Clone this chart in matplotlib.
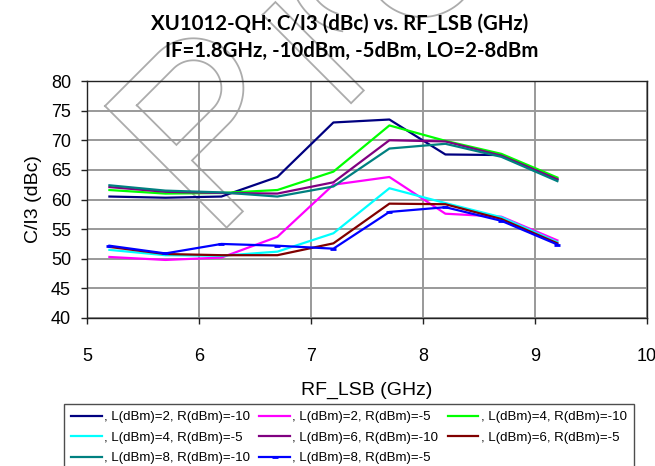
import numpy as np
import matplotlib.pyplot as plt

plt.rcParams['font.family'] = ['Liberation Sans', 'DejaVu Sans']

# RF_LSB sweep points (GHz)
rf_lsb = [5.2, 5.7, 6.2, 6.7, 7.2, 7.7, 8.2, 8.7, 9.2]

# C/I3 (dBc) for each LO / RF drive combination
ci3_l2_rm10 = [60.5, 60.3, 60.5, 63.8, 73.0, 73.5, 67.6, 67.5, 63.4]
ci3_l2_rm5 = [50.3, 49.8, 50.2, 53.7, 62.5, 63.8, 57.6, 57.1, 53.1]
ci3_l4_rm10 = [61.6, 61.0, 61.1, 61.6, 64.7, 72.5, 69.9, 67.7, 63.7]
ci3_l4_rm5 = [51.5, 50.6, 50.5, 51.2, 54.3, 61.9, 59.4, 57.0, 52.8]
ci3_l6_rm10 = [62.1, 61.3, 61.1, 61.0, 62.9, 70.0, 69.8, 67.4, 63.4]
ci3_l6_rm5 = [52.0, 50.8, 50.6, 50.6, 52.6, 59.3, 59.2, 56.7, 52.6]
ci3_l8_rm10 = [62.4, 61.5, 61.2, 60.5, 62.2, 68.6, 69.4, 67.2, 63.1]
ci3_l8_rm5 = [52.2, 50.9, 52.5, 52.2, 51.7, 57.9, 58.7, 56.4, 52.4]

series = [
    (ci3_l2_rm10, ', L(dBm)=2, R(dBm)=-10', '#000080'),
    (ci3_l2_rm5, ', L(dBm)=2, R(dBm)=-5', '#ff00ff'),
    (ci3_l4_rm10, ', L(dBm)=4, R(dBm)=-10', '#00ff00'),
    (ci3_l4_rm5, ', L(dBm)=4, R(dBm)=-5', '#00ffff'),
    (ci3_l6_rm10, ', L(dBm)=6, R(dBm)=-10', '#800080'),
    (ci3_l6_rm5, ', L(dBm)=6, R(dBm)=-5', '#800000'),
    (ci3_l8_rm10, ', L(dBm)=8, R(dBm)=-10', '#008080'),
    (ci3_l8_rm5, ', L(dBm)=8, R(dBm)=-5', '#0000ff'),
]

W, H = 655, 466
fig = plt.figure(figsize=(W / 100, H / 100), dpi=100)

# faint outline logo behind the plot, in pixel coordinates
bg = fig.add_axes([0, 0, 1, 1], zorder=0)
bg.set_xlim(0, W)
bg.set_ylim(H, 0)
bg.axis('off')


def rot(u, v, ox=105, oy=106):
    # tilt the logo by 45 degrees around its corner
    u = np.asarray(u, float)
    v = np.asarray(v, float)
    s = np.sqrt(2)
    return ox + (u + v) / s, oy + (u - v) / s


def letter_p(r_out, r_in):
    th = np.linspace(np.pi, 0, 60)
    u = np.concatenate([[0, 0], 50 + r_out * np.cos(th), [100, 100, 172, 172, 0]])
    v = np.concatenate([[0, 75], 75 + r_out * np.sin(th), [75, 23, 23, 0, 0]])
    ui = np.concatenate([[22, 22], 50 + r_in * np.cos(th), [78, 78, 22]])
    vi = np.concatenate([[23, 75], 75 + r_in * np.sin(th), [75, 23, 23]])
    return (u, v), (ui, vi)


wm = dict(color='#acacac', lw=1.3, solid_joinstyle='miter')
po, pi = letter_p(50, 28)
bg.plot(*rot(*po), **wm)
bg.plot(*rot(*pi), **wm)
bg.plot(*rot([47, 172, 172, 47, 47], [176, 176, 194, 194, 176]), **wm)
ang = np.linspace(0.55 * np.pi, 1.0 * np.pi, 40)
bg.plot(352 + 62 * np.cos(ang), -30 + 62 * np.sin(ang), **wm)
ang2 = np.linspace(0.6 * np.pi, 1.0 * np.pi, 40)
bg.plot(352 + 46 * np.cos(ang2), -30 + 46 * np.sin(ang2), **wm)
ang3 = np.linspace(0.2 * np.pi, 0.8 * np.pi, 60)
bg.plot(422 + 57 * np.cos(ang3), -40 + 57 * np.sin(ang3), **wm)

ax = fig.add_axes([87 / W, 1 - 318 / H, 560 / W, 237 / H], zorder=1)
ax.set_facecolor('none')

handles = []
for vals, label, color in series:
    kw = {}
    if color == '#0000ff':
        kw = dict(marker='_', markersize=5, markeredgewidth=2)
    h, = ax.plot(rf_lsb, vals, color=color, lw=1.6, label=label, **kw)
    handles.append(h)

ax.set_xlim(5, 10)
ax.set_ylim(40, 80)
ax.set_xticks(range(5, 11))
ax.set_yticks(range(40, 81, 5))
ax.grid(True, color='#999999', lw=1.4)
ax.set_axisbelow(True)
for sp in ax.spines.values():
    sp.set_color('#222222')
    sp.set_linewidth(1.0)
ax.tick_params(axis='both', labelsize=13, length=4.5, width=1.0, color='#222222')
ax.tick_params(axis='x', pad=17)
ax.tick_params(axis='y', pad=7)
ax.set_xlabel('RF_LSB (GHz)', fontsize=14, labelpad=12)
ax.set_ylabel('C/I3 (dBc)', fontsize=14, labelpad=6)

title_font = dict(family=['Lato', 'DejaVu Sans'], fontweight='bold', fontsize=14.7)
fig.text(340 / W, 1 - 30 / H, 'XU1012-QH: C/I3 (dBc) vs. RF_LSB (GHz)', ha='center', va='baseline', **title_font)
fig.text(352 / W, 1 - 57 / H, 'IF=1.8GHz, -10dBm, -5dBm, LO=2-8dBm', ha='center', va='baseline', **title_font)

# legend filled column-wise, so reorder to read across rows
order = [0, 3, 6, 1, 4, 7, 2, 5]
leg = fig.legend([handles[i] for i in order], [series[i][1] for i in order],
                 ncol=3, loc='upper left', bbox_to_anchor=(64 / W, 1 - 404 / H),
                 fontsize=9.5, frameon=True, fancybox=False, edgecolor='#222222',
                 handlelength=2.3, handletextpad=0.2, columnspacing=0.7,
                 labelspacing=0.62, borderpad=0.55, borderaxespad=0)
leg.get_frame().set_linewidth(1.0)

fig.savefig('out.png', dpi=100)
